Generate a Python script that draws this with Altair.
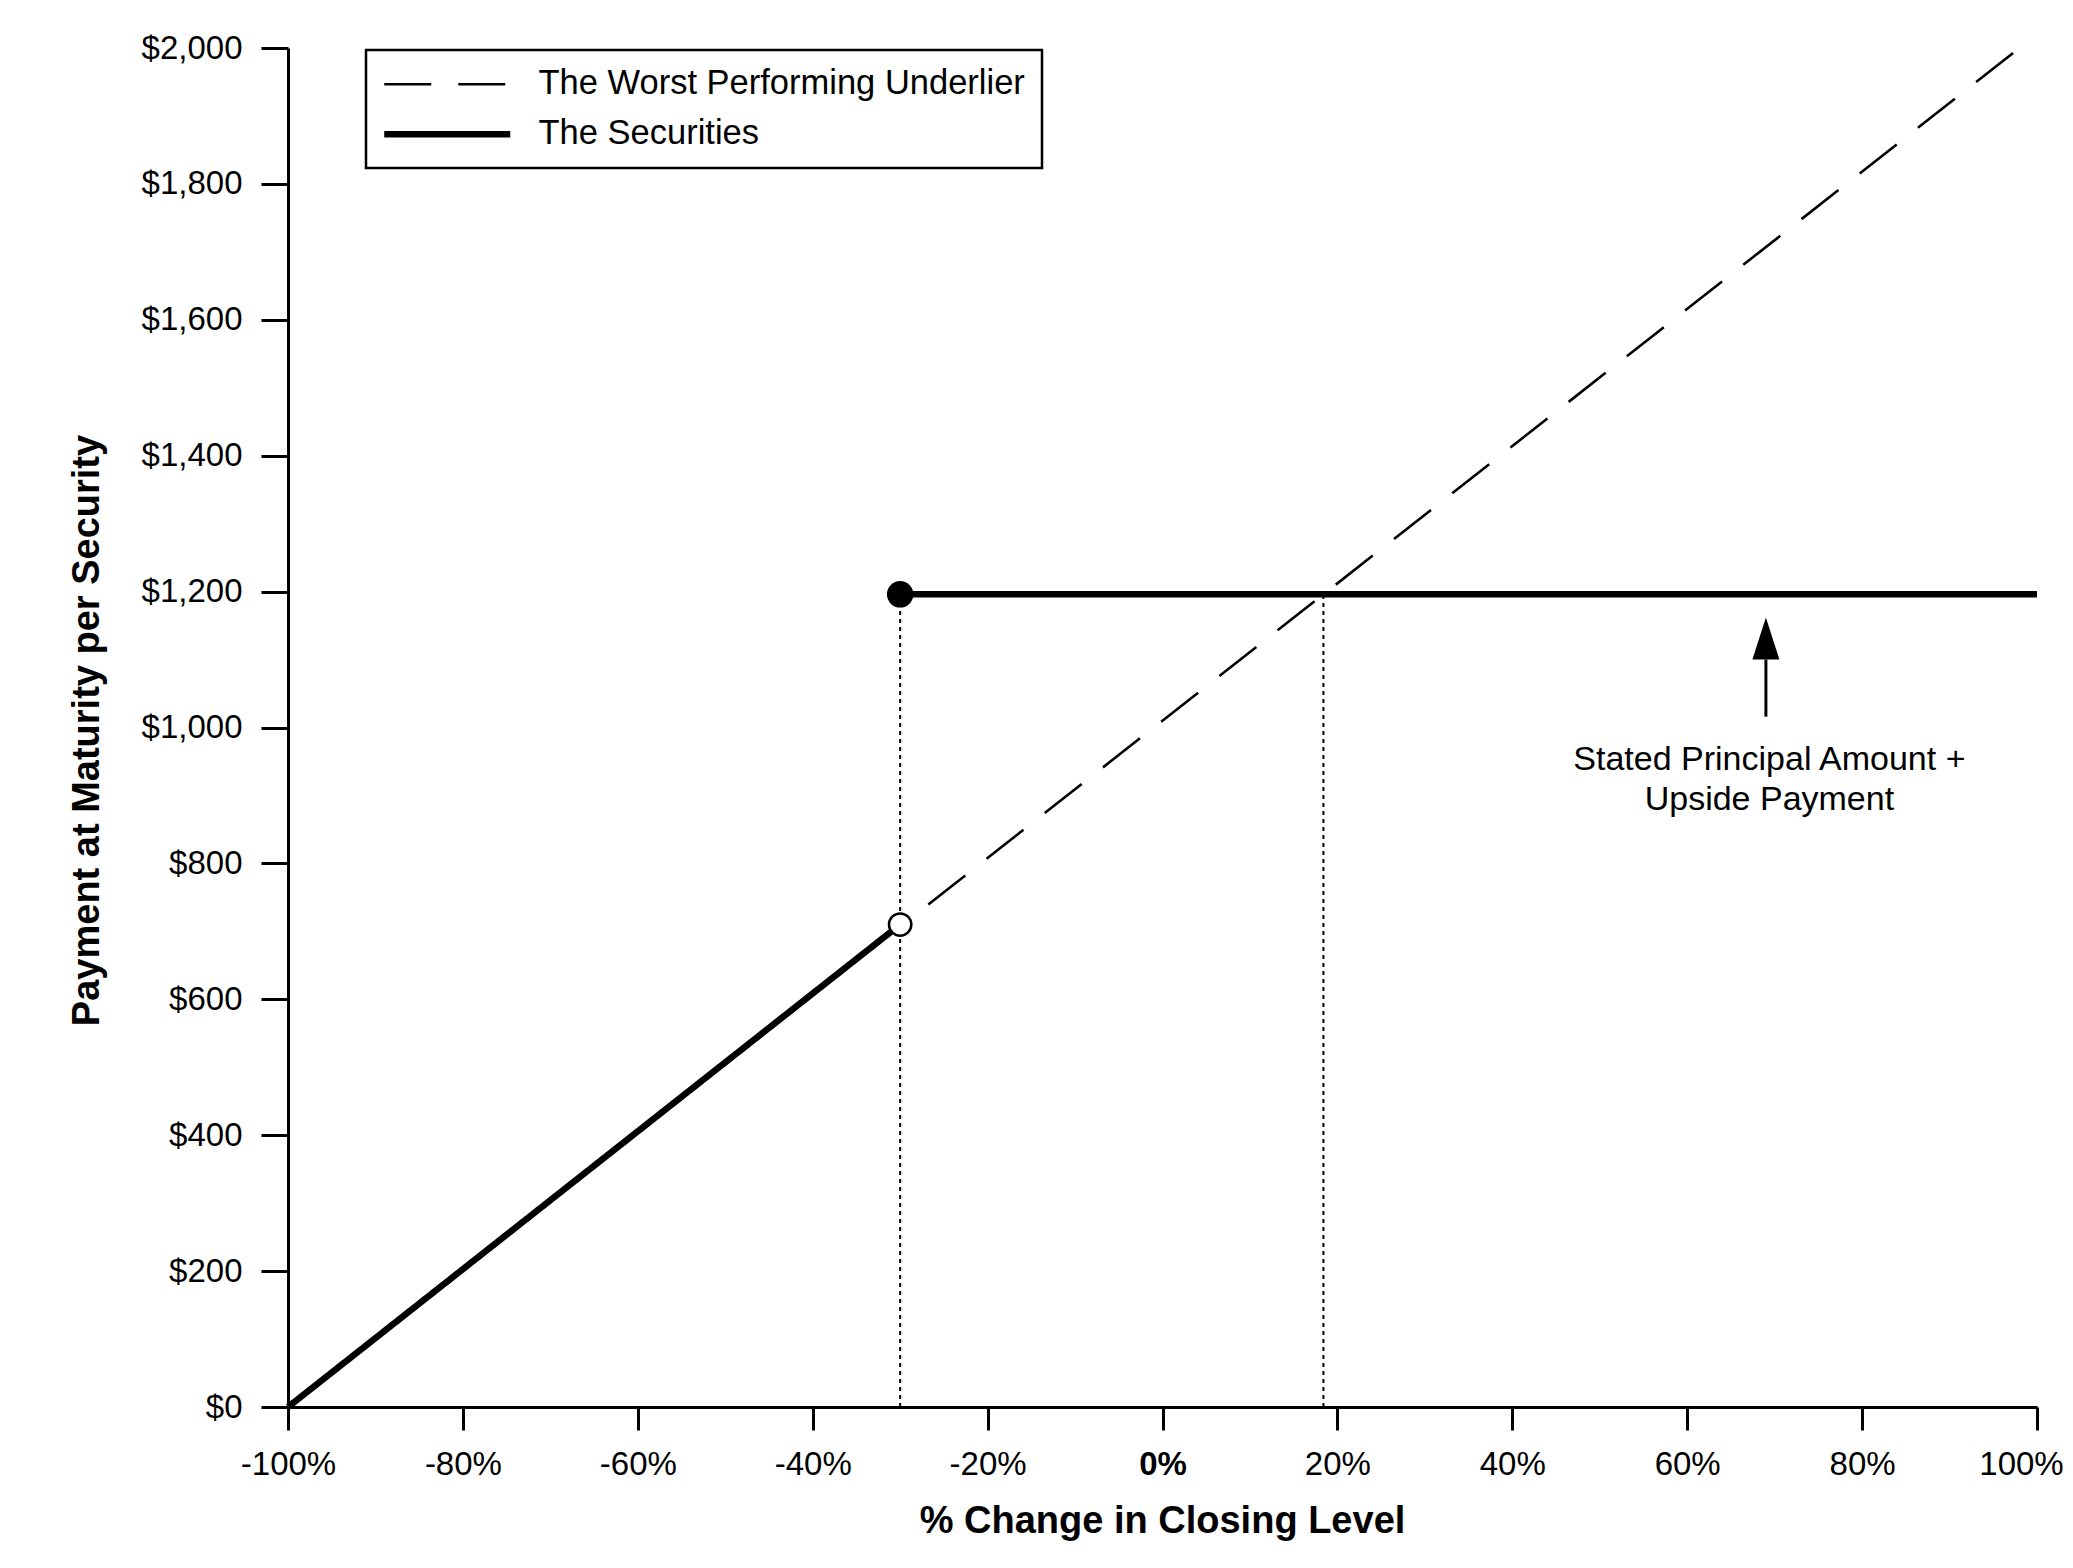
import altair as alt
import pandas as pd

FONT = "Liberation Sans"

# ---- data ----
x_ticks = [-100, -80, -60, -40, -20, 0, 20, 40, 60, 80, 100]
y_ticks = [0, 200, 400, 600, 800, 1000, 1200, 1400, 1600, 1800, 2000]

series_names = ["The Worst Performing Underlier", "The Securities"]

underlier_pct = [-100, 98]
underlier_pay = [0, 2000]

sec_low_pct = [-100, -30]
sec_low_pay = [0, 710]
sec_high_pct = [-30, 100]
sec_high_pay = [1196, 1196]

filled_pct = [-30]
filled_pay = [1196]
open_pct = [-30]
open_pay = [710]

guide_pct = [-30, 18.4]
guide_lo = [0, 0]
guide_hi = [1196, 1196]

arrow_pct = [69]
arrow_tail = [1016]
arrow_base = [1100]
arrow_head_mid = [1131]

note_pct = [69.4]
note_pay = [938]
note_lines = ["Stated Principal Amount +", "Upside Payment"]

# ---- tables ----
rows = []
for i, (p, v) in enumerate(zip(underlier_pct, underlier_pay)):
    rows.append({"series": series_names[0], "segment": "u", "pct": p, "pay": v, "ord": i})
for i, (p, v) in enumerate(zip(sec_low_pct, sec_low_pay)):
    rows.append({"series": series_names[1], "segment": "s1", "pct": p, "pay": v, "ord": i})
for i, (p, v) in enumerate(zip(sec_high_pct, sec_high_pay)):
    rows.append({"series": series_names[1], "segment": "s2", "pct": p, "pay": v, "ord": i})
line_df = pd.DataFrame(rows)

guide_df = pd.DataFrame({"pct": guide_pct, "pay": guide_lo, "pay2": guide_hi})
filled_df = pd.DataFrame({"pct": filled_pct, "pay": filled_pay})
open_df = pd.DataFrame({"pct": open_pct, "pay": open_pay})
shaft_df = pd.DataFrame({"pct": arrow_pct, "pay": arrow_tail, "pay2": arrow_base})
head_df = pd.DataFrame({"pct": arrow_pct, "pay": arrow_head_mid})
note_df = pd.DataFrame({"pct": note_pct, "pay": note_pay, "txt": [note_lines]})

xscale = alt.Scale(domain=[-100, 100], nice=False, zero=False)
yscale = alt.Scale(domain=[0, 2000], nice=False)

xaxis = alt.Axis(
    values=x_ticks,
    labelExpr="datum.value + '%'",
    labelFont=FONT, labelFontSize=33, labelColor="black",
    labelFontWeight={"condition": {"test": "datum.value == 0", "value": "bold"}, "value": "normal"},
    labelOffset={"condition": {"test": "datum.value == 100", "value": -16}, "value": 0},
    labelPadding=18, labelFlush=False, labelOverlap=False,
    tickSize=23, tickWidth=3, tickColor="black",
    domainWidth=3, domainColor="black",
    grid=False,
    titleFont=FONT, titleFontSize=38, titleFontWeight="bold", titleColor="black",
    titleBaseline="alphabetic", titleY=125, titleX=874, titleAlign="center",
)
yaxis = alt.Axis(
    values=y_ticks,
    format="$,.0f",
    labelFont=FONT, labelFontSize=33, labelColor="black",
    labelPadding=19, labelFlush=False, labelOverlap=False,
    tickSize=27, tickWidth=3, tickColor="black",
    domainWidth=3, domainColor="black",
    grid=False,
    titleFont=FONT, titleFontSize=38, titleFontWeight="bold", titleColor="black",
    titleAngle=270, titleBaseline="alphabetic", titleX=-190, titleY=682, titleAlign="center",
)

X = alt.X("pct:Q", scale=xscale, axis=xaxis, title="% Change in Closing Level")
Y = alt.Y("pay:Q", scale=yscale, axis=yaxis, title="Payment at Maturity per Security")

legend_kw = dict(
    title=None, orient="none", legendX=78, legendY=2,
    labelFont=FONT, labelFontSize=34.5, labelColor="black", labelLimit=800,
    symbolType="M-5,0H5", symbolSize=635, symbolStrokeColor="black",
    symbolOffset=47, labelOffset=74, rowPadding=15, padding=17,
    strokeColor="black",
)

guides = alt.Chart(guide_df).mark_rule(color="black", strokeWidth=2, strokeDash=[4, 4]).encode(
    x=X, y=Y, y2="pay2:Q"
)

lines = alt.Chart(line_df).mark_line(color="black", strokeCap="butt").encode(
    x=X, y=Y,
    detail="segment:N",
    order="ord:Q",
    strokeDash=alt.StrokeDash(
        "series:N",
        scale=alt.Scale(domain=series_names, range=[[47, 27], [1, 0]]),
        legend=alt.Legend(**legend_kw),
    ),
    strokeWidth=alt.StrokeWidth(
        "series:N",
        scale=alt.Scale(domain=series_names, range=[2.6, 6.5]),
        legend=alt.Legend(**legend_kw),
    ),
)

filled = alt.Chart(filled_df).mark_circle(color="black", size=700, opacity=1).encode(x=X, y=Y)
opened = alt.Chart(open_df).mark_circle(
    fill="white", stroke="black", strokeWidth=2.5, size=500, opacity=1
).encode(x=X, y=Y)

shaft = alt.Chart(shaft_df).mark_rule(color="black", strokeWidth=3).encode(x=X, y=Y, y2="pay2:Q")
head = alt.Chart(head_df).mark_point(
    shape="M0,-1L0.643,1L-0.643,1Z", filled=True, color="black", size=1764, opacity=1
).encode(x=X, y=Y)

note = alt.Chart(note_df).mark_text(
    font=FONT, fontSize=34, color="black", align="center", baseline="alphabetic", lineHeight=40
).encode(x=X, y=Y, text="txt")

chart = alt.layer(guides, lines, filled, opened, shaft, head, note).properties(
    width=1749, height=1359,
    autosize=alt.AutoSizeParams(type="none"),
    padding={"left": 280, "top": 40, "right": 28, "bottom": 140},
).configure_view(stroke=None).configure_legend(strokeWidth=2.5)

chart.save("out.html", embed_options={"renderer": "svg", "actions": False})
